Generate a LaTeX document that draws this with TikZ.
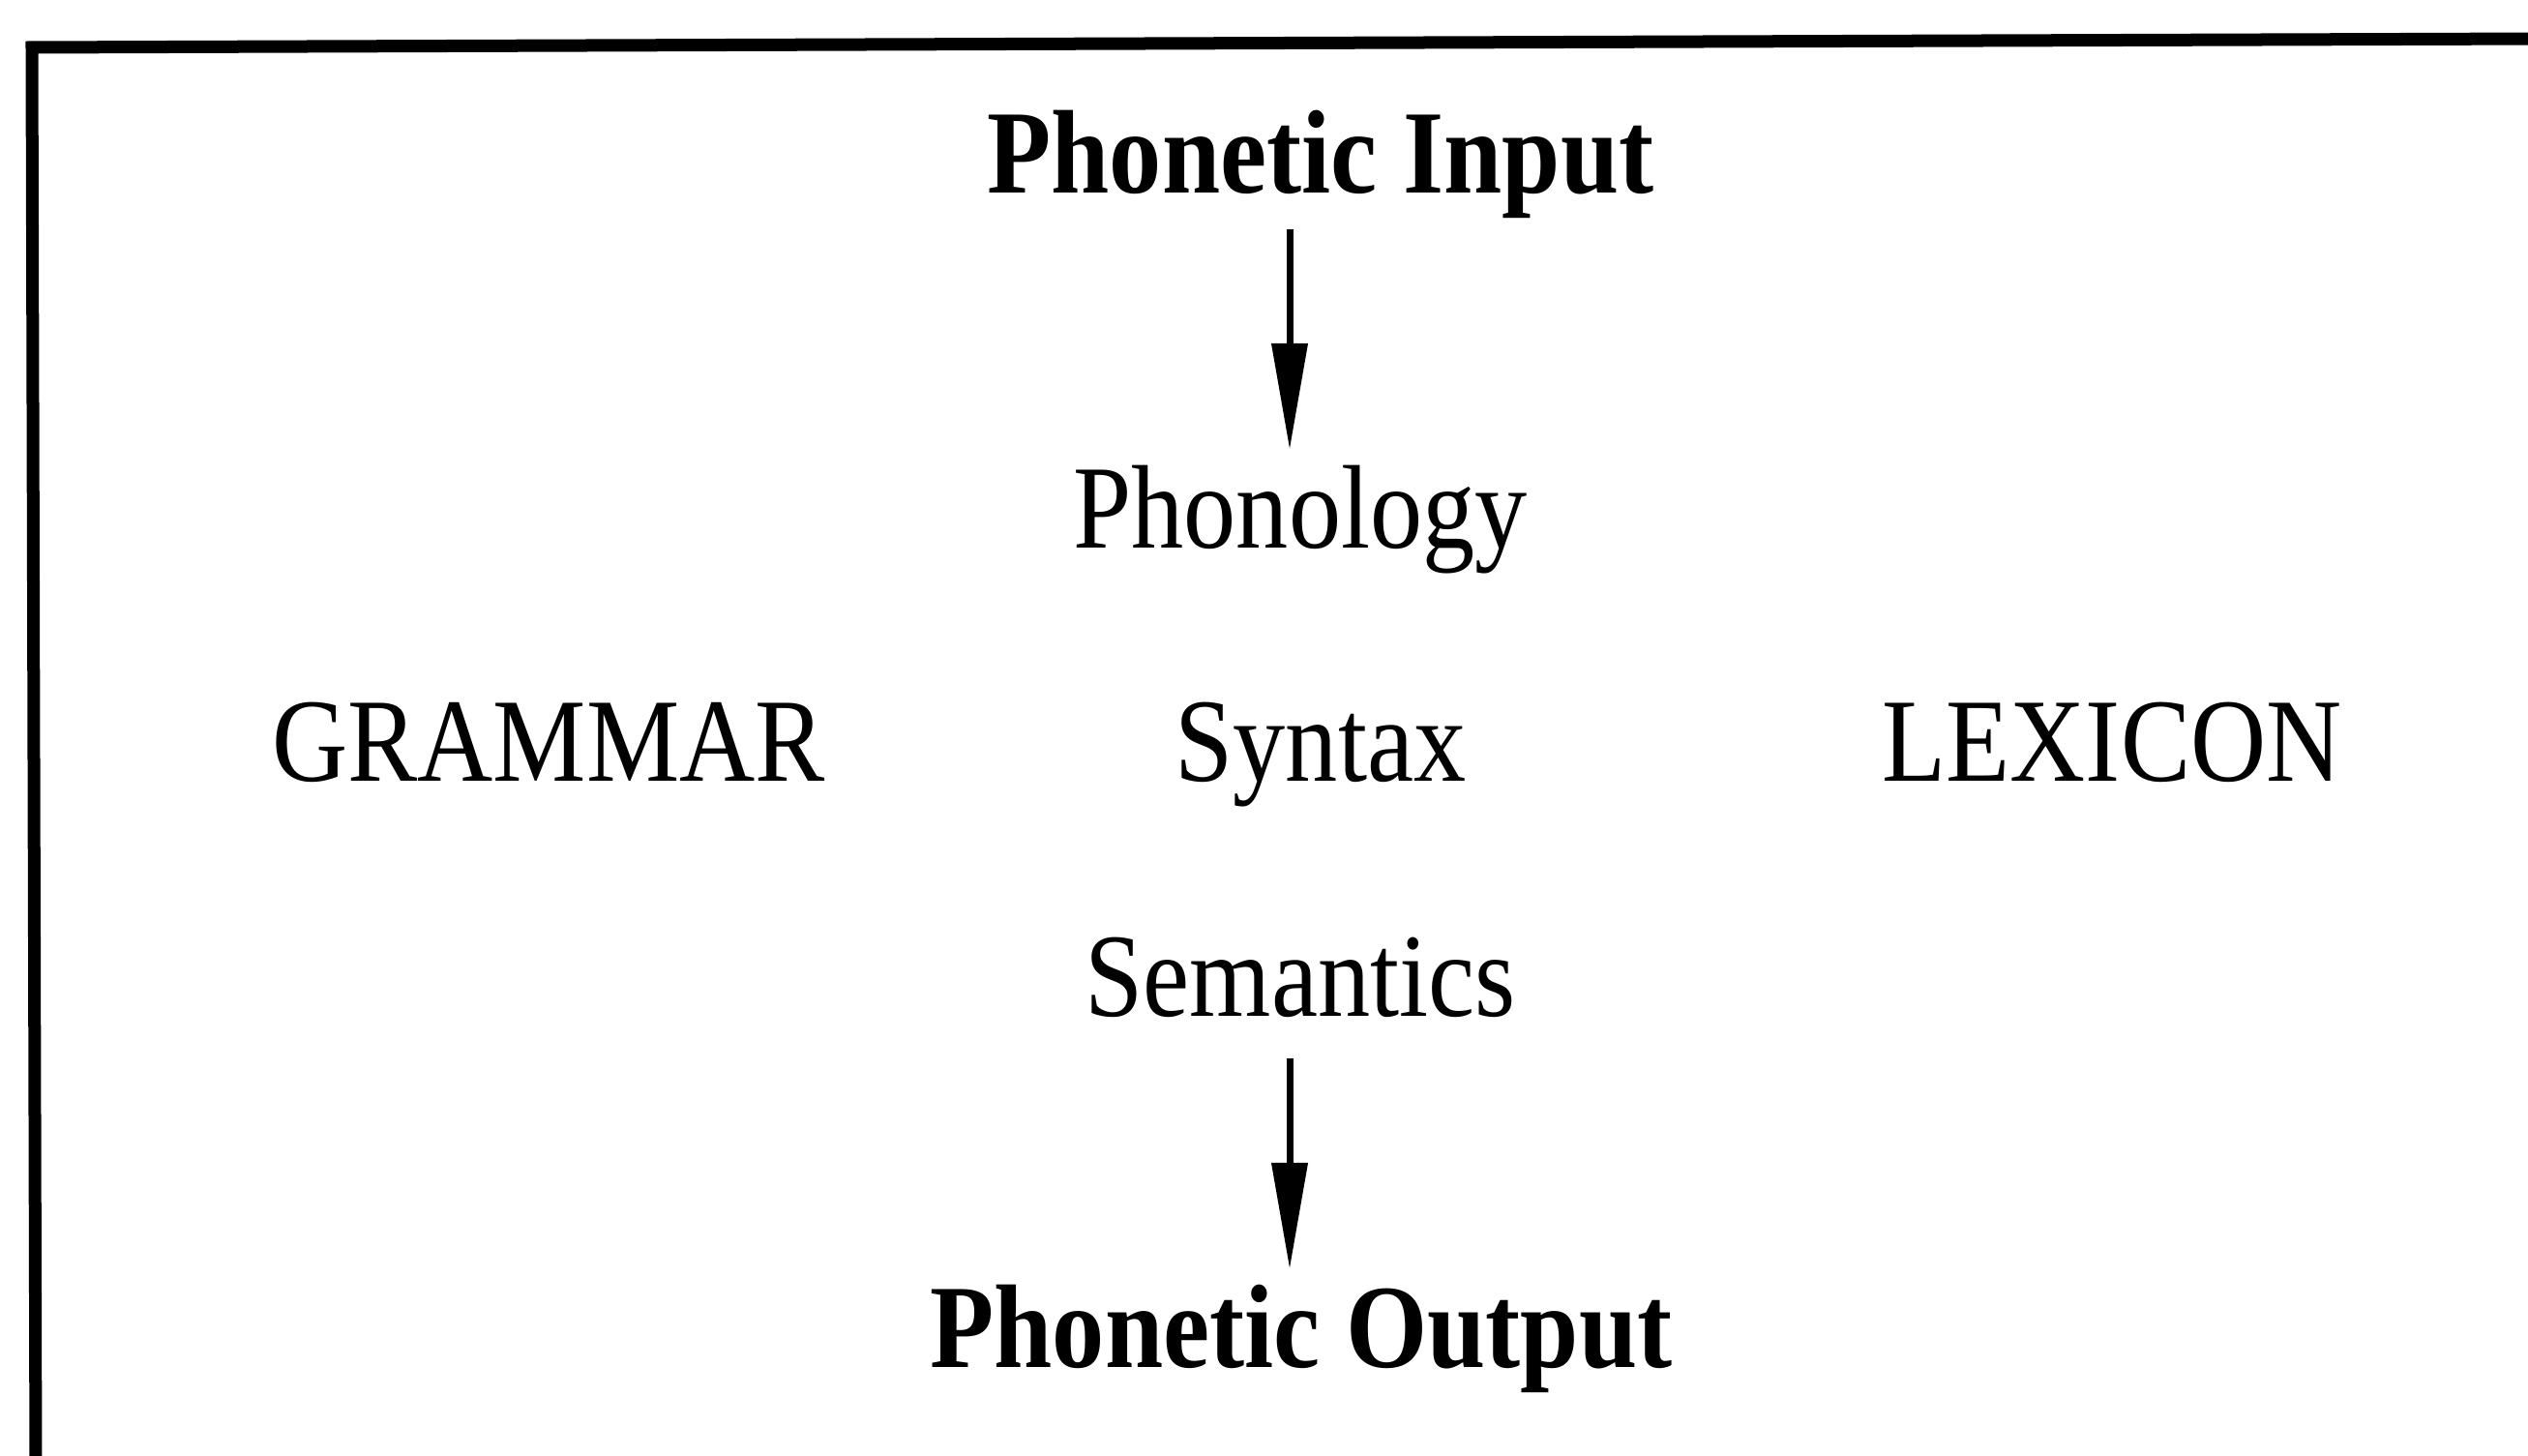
\documentclass[tikz,border=0pt]{standalone}
\usepackage{fontspec}
\setmainfont{Liberation Serif}[FakeStretch=0.88]
\usetikzlibrary{arrows.meta,positioning}
\tikzset{
  >=stealth,
  font=\fontsize{35}{40}\selectfont,
  lvl/.style   ={inner sep=0pt, anchor=base},
  io/.style    ={inner sep=0pt, anchor=base, font=\fontsize{35}{40}\selectfont\bfseries},
  arr/.style   ={-{Triangle[length=11mm, width=3.6mm]}, line width=2pt},
  frame/.style ={line width=3.7pt, miter limit=10},
}
\begin{document}
\begin{tikzpicture}
  \useasboundingbox (0,0) rectangle (26.13,-15.05);
  % open frame, left and top only
  \draw[frame] (0.37,-15.2) -- (0.33,-0.49) -- (26.3,-0.40);
  % levels
  \node[io]  (inp)  at (13.65,-2.00)  {Phonetic Input};
  \node[lvl] (phon) at (13.44,-5.67)  {Phonology};
  \node[lvl] (gram) at (5.67,-8.08)   {GRAMMAR};
  \node[lvl] (syn)  at (13.65,-8.08)  {Syntax};
  \node[lvl] (lex)  at (21.83,-8.08)  {LEXICON};
  \node[lvl] (sem)  at (13.44,-10.50) {Semantics};
  \node[io]  (out)  at (13.45,-14.13) {Phonetic Output};
  % flow
  \draw[arr, shorten <=1mm, shorten >=1.6mm] ([xshift=-1.1mm]inp.south -| phon.south) -- ([xshift=-1.1mm]phon.north);
  \draw[arr, shorten <=4.2mm, shorten >=1.5mm] ([xshift=-1.1mm]sem.south) -- ([xshift=-1.1mm]out.north -| sem.south);
\end{tikzpicture}
\end{document}
